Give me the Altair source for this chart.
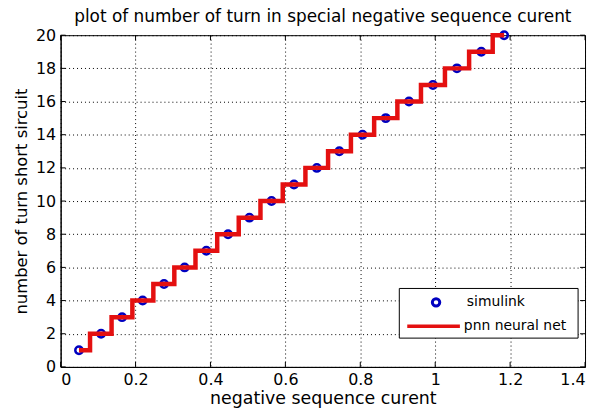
import altair as alt
import pandas as pd

# data
turns = list(range(1, 21))
current = [0.049, 0.108, 0.164, 0.219, 0.276, 0.331, 0.389, 0.447, 0.504, 0.563,
           0.623, 0.684, 0.744, 0.806, 0.868, 0.930, 0.994, 1.058, 1.123, 1.184]
x_ticks = [0, 0.2, 0.4, 0.6, 0.8, 1.0, 1.2, 1.4]
y_ticks = [0, 2, 4, 6, 8, 10, 12, 14, 16, 18, 20]
series = ["simulink", "pnn neural net"]

W, H = 528, 334
BLUE = "#0000c0"
RED = "#e41010"
FONT = "DejaVu Sans"

sim = pd.DataFrame({"x": current, "y": turns})
pnn = pd.DataFrame({"x": current, "y": turns})

xs = alt.Scale(domain=[0, 1.4], nice=False, zero=False)
ys = alt.Scale(domain=[0, 20], nice=False, zero=False)

xaxis = alt.Axis(values=x_ticks, title="negative sequence curent", grid=True, ticks=False,
                 labelOverlap=False, titleFontSize=17.5,
                 labelExpr="datum.value == 0 ? '0' : format(datum.value, '.1~f')")
yaxis = alt.Axis(values=y_ticks, title="number of turn short sircuit", grid=True, ticks=False,
                 labelOverlap=False, titleFontSize=16.5)

pts = alt.Chart(sim).mark_point(filled=False, strokeWidth=2.5, opacity=1, color=BLUE, size=56).encode(
    x=alt.X("x:Q", scale=xs, axis=xaxis),
    y=alt.Y("y:Q", scale=ys, axis=yaxis),
)

line = alt.Chart(pnn).mark_line(interpolate="step", strokeWidth=4.5, color=RED).encode(
    x=alt.X("x:Q", scale=xs, axis=xaxis),
    y=alt.Y("y:Q", scale=ys, axis=yaxis),
)

xt = pd.DataFrame({"x": x_ticks})
yt = pd.DataFrame({"y": y_ticks})
tick_style = dict(color="black", strokeWidth=1)
xb = alt.Chart(xt).mark_rule(**tick_style).encode(x=alt.X("x:Q", scale=xs, axis=xaxis), y=alt.value(H), y2=alt.value(H - 5))
xtop = alt.Chart(xt).mark_rule(**tick_style).encode(x=alt.X("x:Q", scale=xs, axis=xaxis), y=alt.value(0), y2=alt.value(5))
yl = alt.Chart(yt).mark_rule(**tick_style).encode(y=alt.Y("y:Q", scale=ys, axis=yaxis), x=alt.value(0), x2=alt.value(5))
yr = alt.Chart(yt).mark_rule(**tick_style).encode(y=alt.Y("y:Q", scale=ys, axis=yaxis), x=alt.value(W), x2=alt.value(W - 5))

# legend box drawn as a layer
one = pd.DataFrame({"k": [0]})
box = alt.Chart(one).mark_rect(fill="white", stroke="black", strokeWidth=1).encode(
    x=alt.value(341), x2=alt.value(521), y=alt.value(255), y2=alt.value(305))
leg_pt = alt.Chart(one).mark_point(filled=False, strokeWidth=3, color=BLUE, size=56, opacity=1).encode(
    x=alt.value(378), y=alt.value(269))
leg_ln = alt.Chart(one).mark_rule(strokeWidth=3.5, color=RED).encode(
    x=alt.value(349), x2=alt.value(402), y=alt.value(293))
leg_t1 = alt.Chart(pd.DataFrame({"label": [series[0]]})).mark_text(
    align="left", baseline="middle", font=FONT, fontSize=14, color="black").encode(
    text="label:N", x=alt.value(409), y=alt.value(269))
leg_t2 = alt.Chart(pd.DataFrame({"label": [series[1]]})).mark_text(
    align="left", baseline="middle", font=FONT, fontSize=14, color="black").encode(
    text="label:N", x=alt.value(406), y=alt.value(293))

chart = alt.layer(pts, line, xb, xtop, yl, yr, box, leg_pt, leg_ln, leg_t1, leg_t2).properties(
    width=W, height=H,
    title=alt.Title("plot of number of turn in special negative sequence curent",
                    fontSize=17, font=FONT, fontWeight="normal", color="black", offset=0),
    autosize=alt.AutoSizeParams(type="none"),
    padding={"left": 53, "top": 26, "right": 5, "bottom": 42},
    background="white",
).configure_view(stroke="black", strokeWidth=1).configure_axis(
    gridDash=[1, 3], gridColor="black", gridOpacity=1, gridWidth=1,
    domainColor="black", labelFont=FONT, labelFontSize=16, labelColor="black",
    titleFont=FONT, titleFontWeight="normal", titleColor="black",
    labelPadding=5,
).configure_axisX(titlePadding=2).configure_axisY(titlePadding=6)

chart.save("out.html", embed_options={"renderer": "svg", "actions": False})
